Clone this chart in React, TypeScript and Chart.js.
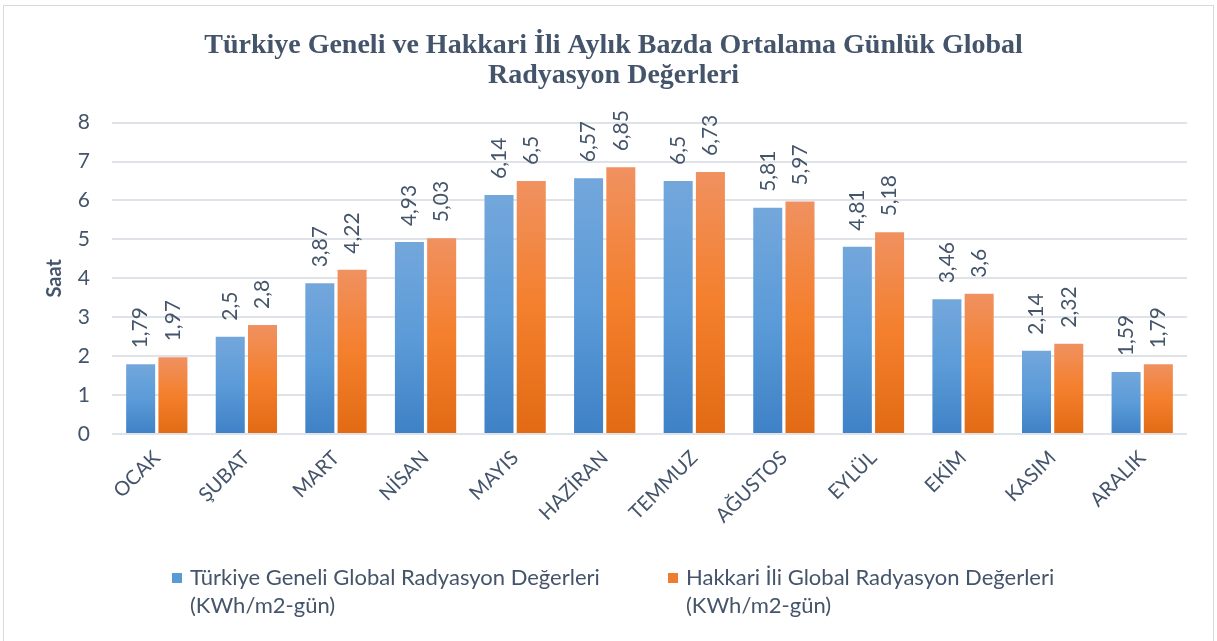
import React, { useEffect, useRef } from "react";
import { Chart, registerables } from "chart.js";

Chart.register(...registerables);

const months = ["OCAK", "ŞUBAT", "MART", "NİSAN", "MAYIS", "HAZİRAN", "TEMMUZ", "AĞUSTOS", "EYLÜL", "EKİM", "KASIM", "ARALIK"];
const turkiyeValues = [1.79, 2.5, 3.87, 4.93, 6.14, 6.57, 6.5, 5.81, 4.81, 3.46, 2.14, 1.59];
const hakkariValues = [1.97, 2.8, 4.22, 5.03, 6.5, 6.85, 6.73, 5.97, 5.18, 3.6, 2.32, 1.79];
const seriesNames = [
  ["Türkiye Geneli Global Radyasyon Değerleri", "(KWh/m2-gün)"],
  ["Hakkari İli Global Radyasyon Değerleri", "(KWh/m2-gün)"],
];
const titleLines = ["Türkiye Geneli ve Hakkari İli Aylık Bazda Ortalama Günlük Global", "Radyasyon Değerleri"];
const yAxisTitle = "Saat";

const TEXT = "#44546a";
const FONT = "Lato";
const blueStops = ["#73a7dc", "#5b9bd8", "#3f81c6"];
const orangeStops = ["#f09160", "#f47f2c", "#e26a14"];
const legendSwatch = ["#5b9bd5", "#ed7d31"];

function gradientFill(stops: string[]) {
  return (ctx: any) => {
    const chart = ctx.chart;
    if (!chart.chartArea || ctx.type !== "data") return stops[1];
    const ys = chart.scales.y;
    const top = ys.getPixelForValue(ctx.raw);
    const bottom = ys.getPixelForValue(0);
    if (!isFinite(top) || !isFinite(bottom) || bottom - top < 1) return stops[1];
    const g = chart.ctx.createLinearGradient(0, top, 0, bottom);
    g.addColorStop(0, stops[0]);
    g.addColorStop(0.5, stops[1]);
    g.addColorStop(1, stops[2]);
    return g;
  };
}

const dataLabelPlugin = {
  id: "dataLabels",
  afterDatasetsDraw(chart: any) {
    const ctx = chart.ctx;
    ctx.save();
    ctx.font = `21px ${FONT}`;
    ctx.fillStyle = TEXT;
    ctx.textAlign = "left";
    ctx.textBaseline = "middle";
    chart.data.datasets.forEach((ds: any, di: number) => {
      const meta = chart.getDatasetMeta(di);
      meta.data.forEach((bar: any, i: number) => {
        const txt = String(ds.data[i]).replace(".", ",");
        ctx.save();
        ctx.translate(bar.x, bar.y - 16);
        ctx.rotate(-Math.PI / 2);
        ctx.fillText(txt, 0, 0);
        ctx.restore();
      });
    });
    ctx.restore();
  },
};

const legendPlugin = {
  id: "customLegend",
  afterDraw(chart: any) {
    const ctx = chart.ctx;
    ctx.save();
    ctx.font = `22px ${FONT}`;
    ctx.textAlign = "left";
    ctx.textBaseline = "middle";
    const starts = [172, 668];
    seriesNames.forEach((lines, k) => {
      const x = starts[k];
      ctx.fillStyle = legendSwatch[k];
      ctx.fillRect(x, 573, 10, 10);
      ctx.fillStyle = TEXT;
      lines.forEach((ln, j) => {
        ctx.fillText(ln, x + 18, 578 + j * 28);
      });
    });
    ctx.restore();
  },
};

export default function App() {
  const ref = useRef<HTMLCanvasElement | null>(null);
  useEffect(() => {
    if (!ref.current) return;
    const chart = new Chart(ref.current, {
      type: "bar",
      data: {
        labels: months,
        datasets: [
          {
            label: seriesNames[0].join(" "),
            data: turkiyeValues,
            backgroundColor: gradientFill(blueStops),
            categoryPercentage: 0.72,
            barPercentage: 0.9,
          },
          {
            label: seriesNames[1].join(" "),
            data: hakkariValues,
            backgroundColor: gradientFill(orangeStops),
            categoryPercentage: 0.72,
            barPercentage: 0.9,
          },
        ],
      },
      options: {
        responsive: false,
        animation: false,
        layout: { padding: { left: 40, right: 30, top: 6, bottom: 107 } },
        plugins: {
          legend: { display: false },
          tooltip: { enabled: false },
          title: {
            display: true,
            text: titleLines,
            color: TEXT,
            font: { family: "'Liberation Serif', 'Times New Roman', serif", size: 28, weight: "bold", lineHeight: 1.1 },
            padding: { top: 24, bottom: 31 },
          },
        },
        scales: {
          x: {
            grid: { display: false },
            border: { display: false },
            ticks: {
              color: TEXT,
              font: { family: FONT, size: 20 },
              maxRotation: 45,
              minRotation: 45,
              padding: 4,
            },
            afterFit: (s: any) => { s.height = 100; },
          },
          y: {
            min: 0,
            max: 8,
            grid: { color: "#dfe3e8", lineWidth: 2, drawTicks: false },
            border: { display: false },
            ticks: {
              stepSize: 1,
              color: TEXT,
              font: { family: FONT, size: 21 },
              padding: 22,
            },
            title: {
              display: true,
              text: yAxisTitle,
              color: TEXT,
              font: { family: FONT, size: 20, weight: "bold" },
              padding: { top: 3, bottom: 0 },
            },
            afterFit: (s: any) => { s.width = 72; },
          },
        },
      },
      plugins: [dataLabelPlugin, legendPlugin],
    });
    return () => chart.destroy();
  }, []);

  return (
    <div style={{ position: "absolute", left: 0, top: 0, width: 1217, height: 641, background: "#fff", overflow: "hidden" }}>
      <div style={{ position: "absolute", left: 3, top: 5, width: 1211, height: 660, border: "1px solid #d9d9d9", boxSizing: "border-box" }} />
      <canvas ref={ref} width={1217} height={641} style={{ position: "absolute", left: 0, top: 0 }} />
    </div>
  );
}
